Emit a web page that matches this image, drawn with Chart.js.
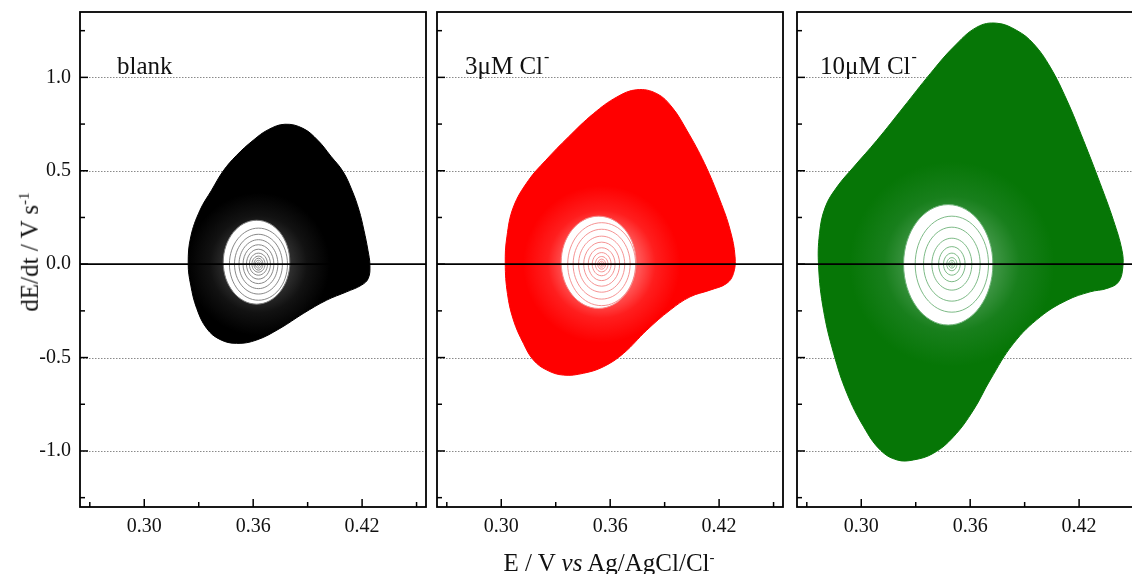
<!DOCTYPE html>
<html>
<head>
<meta charset="utf-8">
<script src="https://cdn.jsdelivr.net/npm/chart.js@4.4.1/dist/chart.umd.min.js"></script>
<style>
    body { margin: 0; width: 1132px; height: 574px; overflow: hidden; background: #fff; position: relative; font-family: 'Liberation Serif', serif; color: #111; }
    canvas { position: absolute; top: 0; }
    #ytitle { position: absolute; left: 30px; top: 252px; transform: translate(-50%, -50%) rotate(-90deg); font-size: 25px; white-space: nowrap; }
    #xtitle { position: absolute; left: 609px; top: 545px; transform: translateX(-50%); font-size: 25px; line-height: 25px; white-space: nowrap; }
    sup { font-size: 0.6em; }
</style>
</head>
<body>
<canvas id="c1" width="430" height="574" style="left:0px"></canvas>
<canvas id="c2" width="354" height="574" style="left:433px"></canvas>
<canvas id="c3" width="354" height="574" style="left:793px"></canvas>
<div id="ytitle">dE/dt / V s<sup>-1</sup></div>
<div id="xtitle">E / V <i>vs</i> Ag/AgCl/Cl<sup>-</sup></div>
<script>
// axes
const eTicks = [0.30, 0.36, 0.42];
const eTickLabels = ['0.30', '0.36', '0.42'];
const eMinor = [0.27, 0.33, 0.39, 0.45];
const vTicks = [-1.0, -0.5, 0, 0.5, 1.0];
const vTickLabels = ['-1.0', '-0.5', '0.0', '0.5', '1.0'];
const vMinor = [-1.25, -0.75, -0.25, 0.25, 0.75, 1.25];

// blank: outer edge of the trajectories
const blankE = [0.3775, 0.3874, 0.3956, 0.4028, 0.4094, 0.4144, 0.4183, 0.4210, 0.4232, 0.4243, 0.4234, 0.4197, 0.4115, 0.4004, 0.3876, 0.3747, 0.3619, 0.3509, 0.3417, 0.3344, 0.3289, 0.3256, 0.3242, 0.3256, 0.3307, 0.3371, 0.3435, 0.3509, 0.3600, 0.3683];
const blankV = [0.749, 0.727, 0.663, 0.578, 0.497, 0.396, 0.289, 0.182, 0.075, -0.005, -0.076, -0.112, -0.148, -0.193, -0.264, -0.344, -0.406, -0.424, -0.403, -0.344, -0.237, -0.112, 0.004, 0.146, 0.289, 0.396, 0.499, 0.583, 0.663, 0.720];
const blankHoleE = [0.3802, 0.3619, 0.3435, 0.3619];
const blankHoleV = [0.01, 0.235, 0.01, -0.214];
const blankCentre = [0.3629, 0.0];
const blankRingRx = [0.0008, 0.0017, 0.0025, 0.0036, 0.0050, 0.0066, 0.0085, 0.0107, 0.0132, 0.0160];
const blankRingRy = [0.011, 0.021, 0.032, 0.043, 0.059, 0.080, 0.104, 0.131, 0.160, 0.193];

// 3 uM Cl-
const cl3E = [0.3747, 0.3857, 0.3940, 0.4022, 0.4120, 0.4205, 0.4261, 0.4288, 0.4279, 0.4242, 0.4150, 0.4040, 0.3930, 0.3802, 0.3673, 0.3563, 0.3453, 0.3343, 0.3251, 0.3177, 0.3122, 0.3067, 0.3034, 0.3022, 0.3031, 0.3067, 0.3150, 0.3245, 0.3370, 0.3508, 0.3637];
const cl3V = [0.934, 0.913, 0.841, 0.717, 0.539, 0.342, 0.182, 0.039, -0.050, -0.103, -0.139, -0.175, -0.246, -0.353, -0.478, -0.549, -0.584, -0.594, -0.567, -0.513, -0.424, -0.299, -0.157, 0.004, 0.146, 0.306, 0.449, 0.556, 0.681, 0.806, 0.895];
const cl3HoleE = [0.3743, 0.3536, 0.3330, 0.3536];
const cl3HoleV = [0.01, 0.257, 0.01, -0.237];
const cl3Centre = [0.3553, 0.0];
const cl3RingRx = [0.0007, 0.0014, 0.0022, 0.0035, 0.0052, 0.0074, 0.0099, 0.0127, 0.0157, 0.0187];
const cl3RingRy = [0.008, 0.016, 0.027, 0.041, 0.062, 0.088, 0.118, 0.150, 0.187, 0.222];

// 10 uM Cl-
const cl10E = [0.3747, 0.3857, 0.3949, 0.4041, 0.4133, 0.4224, 0.4316, 0.4389, 0.4436, 0.4441, 0.4417, 0.4353, 0.4261, 0.4133, 0.3986, 0.3839, 0.3710, 0.3618, 0.3508, 0.3398, 0.3288, 0.3197, 0.3105, 0.3013, 0.2921, 0.2848, 0.2792, 0.2765, 0.2770, 0.2802, 0.2866, 0.2958, 0.3086, 0.3233, 0.3380, 0.3508, 0.3637];
const cl10V = [1.290, 1.251, 1.180, 1.055, 0.877, 0.663, 0.432, 0.235, 0.075, -0.014, -0.095, -0.130, -0.148, -0.193, -0.282, -0.424, -0.620, -0.781, -0.924, -1.012, -1.048, -1.048, -0.995, -0.870, -0.691, -0.478, -0.246, -0.014, 0.164, 0.306, 0.413, 0.520, 0.663, 0.841, 1.020, 1.162, 1.269];
const cl10HoleE = [0.3725, 0.3479, 0.3233, 0.3479];
const cl10HoleV = [0.0, 0.319, 0.0, -0.326];
const cl10Centre = [0.3499, 0.0];
const cl10RingRx = [0.0008, 0.0017, 0.0028, 0.0046, 0.0073, 0.0110, 0.0156, 0.0202];
const cl10RingRy = [0.011, 0.021, 0.035, 0.059, 0.094, 0.139, 0.198, 0.257];

const panels = [
    { id: 'c1', label: 'blank', sup: '', labelX: 37, showY: true,
      E: blankE, V: blankV, holeE: blankHoleE, holeV: blankHoleV, centre: blankCentre, rx: blankRingRx, ry: blankRingRy,
      colour: '#000000', mid: 'rgb(18,18,18)', light: 'rgb(45,45,45)', ring: '#7a7a7a' },
    { id: 'c2', label: '3\u03bcM Cl', sup: '-', labelX: 28, showY: false,
      E: cl3E, V: cl3V, holeE: cl3HoleE, holeV: cl3HoleV, centre: cl3Centre, rx: cl3RingRx, ry: cl3RingRy,
      colour: '#ff0000', mid: 'rgb(255,30,30)', light: 'rgb(255,85,85)', ring: 'rgb(244,135,135)' },
    { id: 'c3', label: '10\u03bcM Cl', sup: '-', labelX: 23, showY: false,
      E: cl10E, V: cl10V, holeE: cl10HoleE, holeV: cl10HoleV, centre: cl10Centre, rx: cl10RingRx, ry: cl10RingRy,
      colour: 'rgb(6,118,6)', mid: 'rgb(24,127,28)', light: 'rgb(60,148,66)', ring: 'rgb(110,178,120)' }
];

function toPoints(es, vs) {
    return es.map((e, i) => ({ x: e, y: vs[i] }));
}

function ringPoints(c, rx, ry) {
    return [
        { x: c[0] + rx, y: c[1] },
        { x: c[0], y: c[1] + ry },
        { x: c[0] - rx, y: c[1] },
        { x: c[0], y: c[1] - ry }
    ];
}

// lighter band of trajectories round the hole
function shade(p) {
    return function (context) {
        const chart = context.chart;
        if (!chart.chartArea) return p.colour;
        const x = chart.scales.x, y = chart.scales.y;
        const cx = x.getPixelForValue(p.centre[0]);
        const cy = y.getPixelForValue(p.centre[1]);
        const rx = Math.abs(x.getPixelForValue(p.holeE[0]) - x.getPixelForValue(p.holeE[2])) / 2;
        const ry = Math.abs(y.getPixelForValue(p.holeV[1]) - y.getPixelForValue(p.holeV[3])) / 2;
        const g = chart.ctx.createRadialGradient(cx, cy, 0, cx, cy, ry * 1.7);
        const edge = rx / (ry * 1.7);
        g.addColorStop(0, p.light);
        g.addColorStop(edge, p.light);
        g.addColorStop(edge + (1 - edge) * 0.4, p.mid);
        g.addColorStop(1, p.colour);
        return g;
    };
}

const decor = {
    id: 'decor',
    afterDatasetUpdate(chart, args) {
        if (chart.data.datasets[args.index].closed) {
            args.meta.dataset._loop = true;
            args.meta.dataset._fullLoop = true;
        }
    },
    beforeDatasetsDraw(chart) {
        const { ctx, chartArea: a, scales: { y } } = chart;
        ctx.save();
        ctx.strokeStyle = '#8a8a8a';
        ctx.lineWidth = 1;
        ctx.setLineDash([1.5, 1.5]);
        vTicks.forEach(v => {
            if (v === 0) return;
            const py = Math.round(y.getPixelForValue(v)) + 0.5;
            ctx.beginPath();
            ctx.moveTo(a.left, py);
            ctx.lineTo(a.right, py);
            ctx.stroke();
        });
        ctx.restore();
    },
    afterDatasetsDraw(chart, args, opts) {
        const { ctx, chartArea: a, scales: { x, y } } = chart;
        ctx.save();
        ctx.strokeStyle = '#000';

        // zero line
        ctx.lineWidth = 1.6;
        const y0 = y.getPixelForValue(0);
        ctx.beginPath();
        ctx.moveTo(a.left, y0);
        ctx.lineTo(a.right, y0);
        ctx.stroke();

        // inward ticks
        ctx.lineWidth = 1.5;
        const tick = (vals, len) => {
            vals.forEach(v => {
                const py = y.getPixelForValue(v);
                ctx.beginPath();
                ctx.moveTo(a.left, py);
                ctx.lineTo(a.left + len, py);
                ctx.stroke();
            });
        };
        tick(vTicks, 8);
        tick(vMinor, 5);
        eTicks.forEach(v => {
            const px = x.getPixelForValue(v);
            ctx.beginPath(); ctx.moveTo(px, a.bottom); ctx.lineTo(px, a.bottom - 8); ctx.stroke();
        });
        eMinor.forEach(v => {
            const px = x.getPixelForValue(v);
            ctx.beginPath(); ctx.moveTo(px, a.bottom); ctx.lineTo(px, a.bottom - 5); ctx.stroke();
        });

        // frame
        ctx.lineWidth = 1.8;
        ctx.strokeRect(a.left, a.top, a.right - a.left, a.bottom - a.top);

        // panel label
        ctx.fillStyle = '#111';
        ctx.font = '25px "Liberation Serif"';
        const lx = a.left + opts.labelX, ly = 74;
        ctx.fillText(opts.label, lx, ly);
        if (opts.sup) {
            const w = ctx.measureText(opts.label).width;
            ctx.font = '16px "Liberation Serif"';
            ctx.fillText(opts.sup, lx + w + 1, ly - 12);
        }
        ctx.restore();
    }
};

const tickFont = { family: 'Liberation Serif', size: 20 };

panels.forEach(p => {
    const datasets = [];
    datasets.push({
        data: toPoints(p.E, p.V), closed: true, fill: 'shape',
        backgroundColor: shade(p), borderColor: p.colour, borderWidth: 1,
        tension: 0.4, pointRadius: 0, order: 3
    });
    datasets.push({
        data: toPoints(p.holeE, p.holeV), closed: true, fill: 'shape',
        backgroundColor: '#ffffff', borderColor: p.ring, borderWidth: 1,
        tension: 0.55, pointRadius: 0, order: 2
    });
    p.rx.forEach((rx, i) => {
        datasets.push({
            data: ringPoints(p.centre, rx, p.ry[i]), closed: true, fill: false,
            borderColor: p.ring, borderWidth: 0.9, tension: 0.55, pointRadius: 0, order: 1
        });
    });

    new Chart(document.getElementById(p.id), {
        type: 'line',
        data: { datasets: datasets },
        options: {
            responsive: false,
            animation: false,
            events: [],
            layout: { padding: { top: 12, right: 4, left: p.showY ? 0 : 4, bottom: 0 } },
            plugins: {
                legend: { display: false },
                tooltip: { enabled: false },
                decor: { label: p.label, sup: p.sup, labelX: p.labelX }
            },
            scales: {
                x: {
                    type: 'linear', min: 0.2646, max: 0.4552,
                    grid: { display: false, drawTicks: false }, border: { display: false },
                    afterBuildTicks: s => { s.ticks = eTicks.map(v => ({ value: v })); },
                    afterFit: s => { s.height = 67; s.paddingLeft = 0; s.paddingRight = 0; },
                    ticks: {
                        font: tickFont, color: '#111', padding: 8, autoSkip: false, maxRotation: 0,
                        callback: (v, i) => eTickLabels[i]
                    }
                },
                y: {
                    type: 'linear', min: -1.30, max: 1.35, display: p.showY,
                    grid: { display: false, drawTicks: false }, border: { display: false },
                    afterBuildTicks: s => { s.ticks = vTicks.map(v => ({ value: v })); },
                    afterFit: s => { s.width = p.showY ? 80 : 0; s.paddingTop = 0; s.paddingBottom = 0; },
                    ticks: {
                        font: tickFont, color: '#111', padding: 9,
                        callback: (v, i) => vTickLabels[i]
                    }
                }
            }
        },
        plugins: [decor]
    });
});
</script>
</body>
</html>
